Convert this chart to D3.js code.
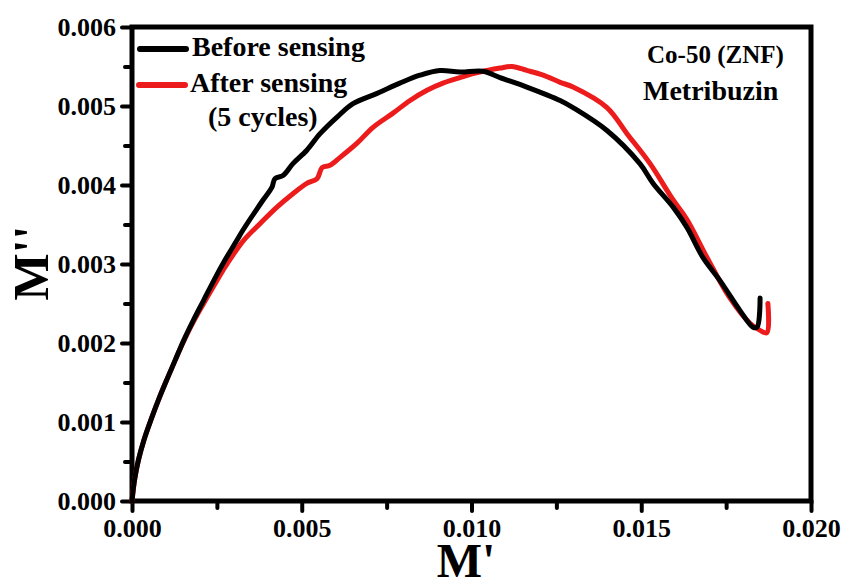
<!DOCTYPE html>
<html>
<head>
<meta charset="utf-8">
<script src="https://cdn.jsdelivr.net/npm/d3@7"></script>
<style>
    body { margin:0; background:#fff; }
    svg { font-family:"Liberation Serif","Times New Roman",serif; font-weight:bold; }
    .tick text { font-size:26px; }
</style>
</head>
<body>
<svg id="modulus"></svg>
<script>
//data: M' (x) and M'' (y)
var beforeX = [0, 0.000074, 0.00019, 0.00035, 0.00056, 0.00078, 0.00102, 0.00127, 0.00153, 0.00181,
    0.00211, 0.00242, 0.00274, 0.00309, 0.00327, 0.00386,
    0.00412, 0.00421, 0.00445, 0.00474, 0.00515, 0.00554, 0.00604, 0.00651, 0.00722, 0.00789,
    0.00848, 0.00907, 0.00966, 0.01034, 0.01084, 0.01163, 0.01261, 0.01299, 0.01399, 0.01496,
    0.01535, 0.01594, 0.01635, 0.01682, 0.01732, 0.01791, 0.01829, 0.01841, 0.0185];
var beforeY = [0, 0.000266, 0.00052, 0.00077, 0.00103, 0.00128, 0.00153, 0.00178, 0.00204, 0.00229,
    0.00254, 0.0028, 0.00305, 0.0033, 0.00343, 0.00381,
    0.00397, 0.00408, 0.00412, 0.00427, 0.00444, 0.00465, 0.00486, 0.00503, 0.00516, 0.00529,
    0.00539, 0.00545, 0.00543, 0.00544, 0.00536, 0.00524, 0.00507, 0.00498, 0.00469, 0.00427,
    0.00402, 0.00372, 0.00346, 0.00308, 0.00279, 0.00241, 0.0022, 0.0022, 0.00257];

var afterX = [0, 0.000074, 0.00019, 0.00035, 0.00056, 0.00078, 0.00102, 0.00127, 0.00153, 0.00181,
    0.00211, 0.00242, 0.00268, 0.00327, 0.00377, 0.00427,
    0.00474, 0.00515, 0.00545, 0.0056, 0.00583, 0.00613, 0.00663, 0.0071, 0.00769, 0.00819,
    0.00869, 0.00916, 0.00966, 0.01004, 0.01046, 0.01084, 0.01119, 0.01163, 0.01211, 0.01261,
    0.01299, 0.01399, 0.01458, 0.01526, 0.01594, 0.01635, 0.01694, 0.01761, 0.0182, 0.0185,
    0.0187, 0.01873];
var afterY = [0, 0.000266, 0.00052, 0.00077, 0.00103, 0.00128, 0.00153, 0.00178, 0.00203, 0.00227,
    0.0025, 0.00273, 0.00292, 0.00329, 0.00351, 0.00372,
    0.00389, 0.00402, 0.00408, 0.00422, 0.00425, 0.00435, 0.00453, 0.00473, 0.00491, 0.00507,
    0.0052, 0.00529, 0.00536, 0.00541, 0.00545, 0.00548, 0.0055, 0.00545, 0.00539, 0.0053,
    0.00524, 0.00498, 0.00465, 0.00427, 0.00381, 0.00356, 0.00308, 0.00257, 0.00225, 0.00216,
    0.00213, 0.0025];

var xTicks = [0, 0.005, 0.010, 0.015, 0.020];
var yTicks = [0, 0.001, 0.002, 0.003, 0.004, 0.005, 0.006];
var seriesNames = ["Before sensing", "After sensing"];
var seriesColors = ["#000000", "#ec1c1c"];
var notes = ["Co-50 (ZNF)", "Metribuzin"];

var pairUp = function(xs, ys)
{
    return xs.map(function(x, i) { return {x:x, y:ys[i]}; });
}

var initGraph = function(target)
{
    var screen = {width:845, height:580};
    var plot = {left:132, right:811, top:27, bottom:501};

    var svg = d3.select(target)
        .attr("width", screen.width)
        .attr("height", screen.height);

    var xScale = d3.scaleLinear().domain([0, 0.020]).range([plot.left, plot.right]);
    var yScale = d3.scaleLinear().domain([0, 0.006]).range([plot.bottom, plot.top]);

    //minor ticks halfway between the major ones
    var xMinor = d3.range(0.0025, 0.020, 0.005);
    var yMinor = d3.range(0.0005, 0.006, 0.001);

    var axes = svg.append("g");

    axes.append("g")
        .attr("transform", "translate(0," + plot.bottom + ")")
        .call(d3.axisBottom(xScale).tickValues(xMinor).tickSize(7).tickFormat(""));
    axes.append("g")
        .attr("transform", "translate(" + plot.left + ",0)")
        .call(d3.axisLeft(yScale).tickValues(yMinor).tickSize(7).tickFormat(""));

    axes.append("g")
        .attr("transform", "translate(0," + plot.bottom + ")")
        .call(d3.axisBottom(xScale).tickValues(xTicks).tickSize(10).tickPadding(8)
            .tickFormat(d3.format(".3f")));
    axes.append("g")
        .attr("transform", "translate(" + plot.left + ",0)")
        .call(d3.axisLeft(yScale).tickValues(yTicks).tickSize(10).tickPadding(6)
            .tickFormat(d3.format(".3f")));

    //d3 puts sans-serif on the axis groups, use the serif font like the rest
    axes.selectAll("g")
        .attr("font-family", "Liberation Serif, Times New Roman, serif")
        .attr("font-size", null);
    axes.selectAll(".domain").remove();
    axes.selectAll(".tick line").attr("stroke", "#000").attr("stroke-width", 4)
        .attr("stroke-linecap", "round");
    axes.selectAll(".tick text").attr("fill", "#000");

    //frame
    svg.append("rect")
        .attr("x", plot.left)
        .attr("y", plot.top)
        .attr("width", plot.right - plot.left)
        .attr("height", plot.bottom - plot.top)
        .attr("fill", "none")
        .attr("stroke", "#000")
        .attr("stroke-width", 5);

    var lineGenerator = d3.line()
        .x(function(d) { return xScale(d.x); })
        .y(function(d) { return yScale(d.y); })
        .curve(d3.curveCatmullRom.alpha(0.5));

    var series = [pairUp(afterX, afterY), pairUp(beforeX, beforeY)];
    var colors = [seriesColors[1], seriesColors[0]];

    svg.append("g")
        .selectAll("path")
        .data(series)
        .enter()
        .append("path")
        .attr("d", lineGenerator)
        .attr("fill", "none")
        .attr("stroke", function(d, i) { return colors[i]; })
        .attr("stroke-width", 5)
        .attr("stroke-linejoin", "round")
        .attr("stroke-linecap", "round");

    //legend
    var legend = svg.append("g");
    legend.append("line")
        .attr("x1", 140).attr("x2", 186).attr("y1", 49).attr("y2", 49)
        .attr("stroke", seriesColors[0]).attr("stroke-width", 6).attr("stroke-linecap", "round");
    legend.append("text")
        .attr("x", 192).attr("y", 56).attr("font-size", 28)
        .text(seriesNames[0]);
    legend.append("line")
        .attr("x1", 139).attr("x2", 185).attr("y1", 85).attr("y2", 85)
        .attr("stroke", seriesColors[1]).attr("stroke-width", 6).attr("stroke-linecap", "round");
    legend.append("text")
        .attr("x", 190).attr("y", 92).attr("font-size", 28)
        .text(seriesNames[1]);
    legend.append("text")
        .attr("x", 208).attr("y", 126).attr("font-size", 28)
        .text("(5 cycles)");

    svg.append("text")
        .attr("x", 647).attr("y", 63).attr("font-size", 25)
        .text(notes[0]);
    svg.append("text")
        .attr("x", 643).attr("y", 100).attr("font-size", 28)
        .text(notes[1]);

    //axis titles
    svg.append("text")
        .attr("x", 466).attr("y", 577)
        .attr("text-anchor", "middle")
        .attr("font-size", 48)
        .text("M'");
    svg.append("g")
        .attr("transform", "translate(48,263)")
        .append("text")
        .attr("text-anchor", "middle")
        .attr("transform", "rotate(-90)")
        .attr("font-size", 50)
        .text("M''");
}

initGraph("#modulus");
</script>
</body>
</html>
